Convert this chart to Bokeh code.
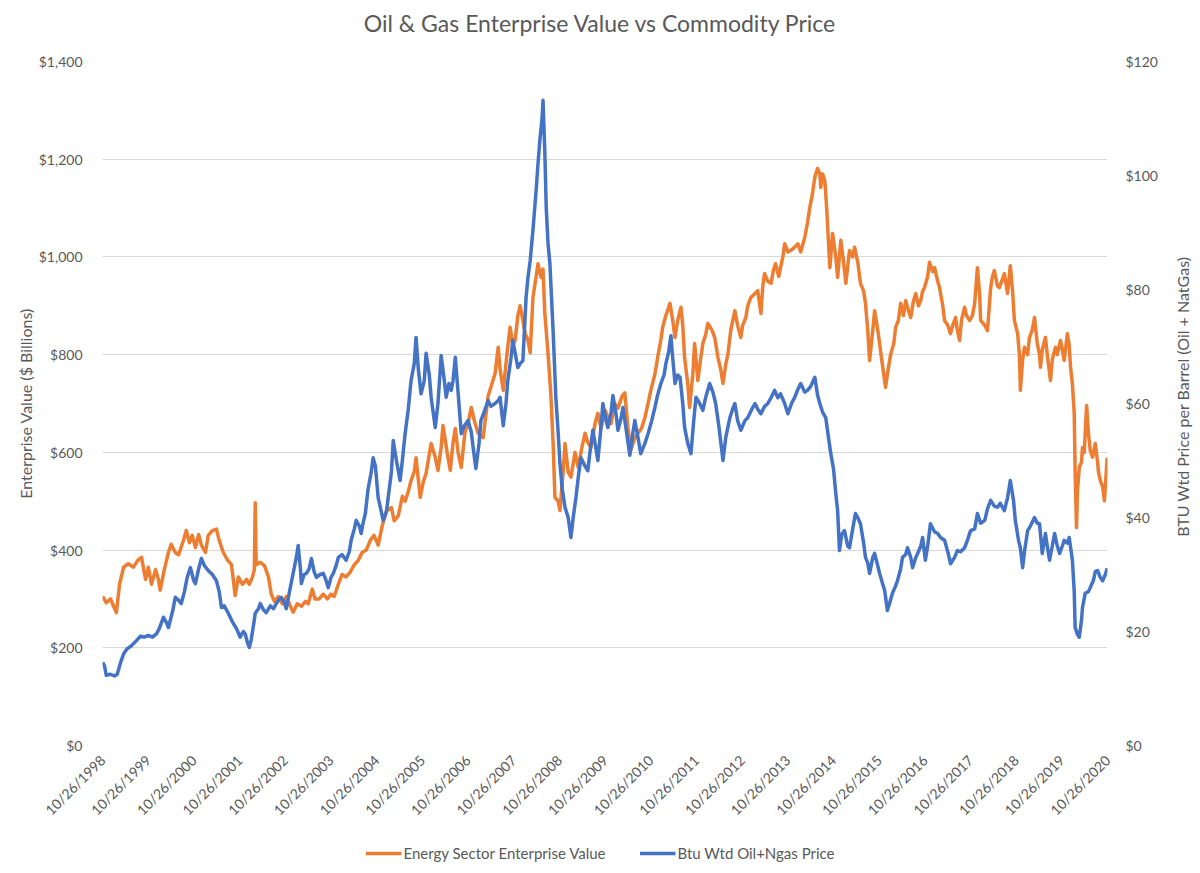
import math
from datetime import datetime
from bokeh.plotting import figure
from bokeh.layouts import column, row
from bokeh.models import (Range1d, LinearAxis, FixedTicker, NumeralTickFormatter,
                          DatetimeTickFormatter, Legend, LegendItem, ColumnDataSource, Label)
from bokeh.embed import file_html
from bokeh.resources import INLINE

# ---------------- data ----------------
# Energy Sector Enterprise Value ($ Billions), time as decimal year
ev_years = [
1998.82,1998.90,1998.99,1999.06,1999.12,1999.19,1999.28,1999.38,1999.49,1999.60,1999.67,1999.76,1999.82,1999.89,1999.98,
2000.04,2000.08,2000.17,2000.26,2000.32,2000.41,2000.48,2000.59,2000.65,2000.72,2000.78,2000.85,2000.92,2000.98,
2001.07,2001.13,2001.22,2001.31,2001.37,2001.46,2001.55,2001.64,2001.72,2001.79,2001.88,2001.97,
2002.03,2002.10,2002.14,2002.16,2002.18,2002.27,2002.36,2002.45,2002.51,2002.58,2002.67,2002.75,2002.84,2002.93,2002.99,
2003.08,2003.17,2003.26,2003.32,2003.41,2003.47,2003.56,2003.65,2003.74,2003.82,2003.89,2003.98,
2004.06,2004.15,2004.24,2004.33,2004.41,2004.50,2004.59,2004.68,2004.76,2004.85,2004.94,
2005.03,2005.14,2005.20,2005.29,2005.38,2005.44,2005.51,2005.57,2005.64,2005.68,2005.77,2005.84,2005.90,
2006.01,2006.10,2006.16,2006.23,2006.27,2006.36,2006.43,2006.49,2006.54,2006.60,2006.67,2006.75,2006.82,2006.89,2006.97,
2007.04,2007.15,2007.26,2007.34,2007.41,2007.48,2007.52,2007.59,2007.67,2007.74,2007.80,2007.85,2007.91,2007.96,
2008.02,2008.07,2008.13,2008.18,2008.24,2008.31,2008.35,2008.42,2008.46,2008.50,2008.57,2008.63,2008.68,2008.72,2008.79,2008.83,2008.90,2008.94,
2009.01,2009.07,2009.16,2009.23,2009.31,2009.38,2009.44,2009.51,2009.60,2009.66,2009.73,2009.82,2009.88,2009.95,
2010.03,2010.10,2010.19,2010.25,2010.32,2010.38,2010.47,2010.54,2010.62,2010.69,2010.76,2010.82,2010.91,2010.97,
2011.04,2011.08,2011.15,2011.24,2011.30,2011.35,2011.41,2011.48,2011.52,2011.56,2011.63,2011.67,2011.74,2011.78,2011.85,2011.91,2011.96,
2012.02,2012.07,2012.16,2012.22,2012.29,2012.35,2012.40,2012.46,2012.51,2012.57,2012.66,2012.72,2012.79,2012.83,2012.90,2012.94,
2013.01,2013.10,2013.16,2013.23,2013.27,2013.31,2013.38,2013.45,2013.51,2013.55,2013.62,2013.66,2013.71,2013.75,2013.82,2013.88,2013.97,
2014.04,2014.10,2014.19,2014.25,2014.30,2014.36,2014.41,2014.47,2014.52,2014.54,2014.58,2014.63,2014.67,2014.74,2014.80,2014.87,2014.91,2014.98,
2015.04,2015.09,2015.17,2015.24,2015.28,2015.35,2015.41,2015.48,2015.52,2015.57,2015.61,2015.68,2015.72,2015.79,2015.85,2015.89,2015.96,
2016.00,2016.07,2016.14,2016.18,2016.24,2016.29,2016.35,2016.40,2016.46,2016.51,2016.57,2016.62,2016.68,2016.73,2016.77,2016.81,2016.88,2016.92,2016.99,
2017.03,2017.10,2017.14,2017.21,2017.25,2017.32,2017.38,2017.43,2017.49,2017.53,2017.58,2017.62,2017.69,2017.73,2017.80,2017.86,2017.91,2017.97,
2018.02,2018.04,2018.13,2018.19,2018.26,2018.30,2018.34,2018.41,2018.45,2018.52,2018.56,2018.63,2018.69,2018.74,2018.78,2018.85,2018.89,2018.91,2018.96,
2019.00,2019.07,2019.11,2019.17,2019.22,2019.28,2019.33,2019.35,2019.39,2019.46,2019.50,2019.57,2019.61,2019.68,2019.72,2019.79,2019.83,2019.87,2019.94,2019.98,
2020.01,2020.05,2020.09,2020.11,2020.14,2020.16,2020.20,2020.25,2020.27,2020.31,2020.36,2020.40,2020.44,2020.49,2020.55,2020.60,2020.62,2020.66,2020.71,2020.75,2020.79,2020.81]
ev_values = [
305,292,300,285,272,330,365,372,365,380,385,340,365,330,360,
340,318,360,395,412,395,390,420,440,415,430,405,432,410,
395,430,440,443,420,395,380,370,307,345,330,340,
330,345,360,497,370,375,368,345,310,295,305,290,305,285,273,
290,285,295,290,320,300,300,310,300,310,305,330,
350,345,355,370,378,395,400,420,430,410,450,
480,487,460,470,510,500,520,542,560,589,508,540,557,
618,590,563,610,655,600,563,620,649,600,569,640,660,692,660,
639,630,716,740,761,815,770,727,800,856,820,829,880,900,
870,843,830,804,917,960,986,958,975,884,802,720,620,508,500,481,560,618,
560,549,600,569,610,639,620,610,660,680,650,686,670,659,
700,690,715,722,650,604,630,639,650,671,700,727,760,794,
830,856,880,905,870,835,870,897,860,794,740,692,760,823,747,790,823,
840,864,850,835,794,770,741,780,802,850,890,860,835,860,876,900,
917,925,931,884,940,966,950,946,975,986,960,978,1000,1027,1010,1013,1020,
1027,1010,1040,1070,1101,1130,1163,1181,1170,1142,1170,1156,1100,978,1048,1000,958,1034,
990,946,1013,1000,1020,990,946,930,905,850,788,850,890,850,808,780,733,
760,800,823,856,870,905,880,911,890,876,910,925,900,911,930,937,960,989,970,
978,950,937,900,870,860,843,860,876,850,829,870,897,880,870,880,905,978,
920,870,860,849,937,960,972,940,937,955,966,925,982,930,870,843,800,727,790,
815,800,835,850,876,823,800,774,810,835,800,747,790,815,800,829,810,788,843,820,
774,740,680,560,446,520,569,580,610,600,696,640,604,590,618,580,560,542,530,501,560,589]

# Btu weighted Oil + NatGas price ($ per barrel), time as decimal year
px_years = [
1998.82,1998.86,1998.90,1998.99,1999.08,1999.14,1999.21,1999.28,1999.36,1999.45,1999.56,1999.65,1999.73,1999.82,1999.91,
2000.00,2000.06,2000.15,2000.22,2000.26,2000.35,2000.41,2000.48,2000.54,2000.61,2000.67,2000.74,2000.81,2000.85,2000.92,2000.98,
2001.05,2001.13,2001.22,2001.31,2001.37,2001.42,2001.48,2001.57,2001.64,2001.68,2001.75,2001.83,2001.90,2001.94,2001.99,
2002.03,2002.07,2002.12,2002.16,2002.23,2002.27,2002.34,2002.40,2002.49,2002.56,2002.60,2002.67,2002.73,2002.80,2002.84,2002.91,2002.99,
2003.06,2003.10,2003.15,2003.17,2003.23,2003.28,2003.34,2003.39,2003.45,2003.50,2003.58,2003.65,2003.71,2003.76,2003.82,2003.87,2003.93,2003.98,
2004.06,2004.15,2004.22,2004.26,2004.33,2004.37,2004.44,2004.48,2004.52,2004.57,2004.63,2004.70,2004.74,2004.79,2004.85,2004.92,2004.96,
2005.03,2005.07,2005.14,2005.18,2005.25,2005.33,2005.38,2005.44,2005.51,2005.57,2005.64,2005.68,2005.73,2005.79,2005.86,2005.90,2005.97,
2006.01,2006.10,2006.16,2006.23,2006.30,2006.34,2006.40,2006.45,2006.49,2006.54,2006.60,2006.67,2006.73,2006.82,2006.89,2006.93,2006.99,
2007.06,2007.10,2007.17,2007.26,2007.32,2007.41,2007.48,2007.52,2007.59,2007.65,2007.69,2007.76,2007.80,2007.87,2007.91,2007.96,
2008.02,2008.09,2008.13,2008.18,2008.24,2008.31,2008.35,2008.39,2008.44,2008.46,2008.50,2008.53,2008.57,2008.61,2008.68,2008.74,2008.79,2008.83,2008.88,2008.94,
2009.01,2009.07,2009.12,2009.18,2009.23,2009.29,2009.38,2009.44,2009.51,2009.55,2009.62,2009.66,2009.73,2009.77,2009.84,2009.88,2009.95,2009.99,
2010.06,2010.10,2010.17,2010.21,2010.27,2010.36,2010.43,2010.47,2010.54,2010.60,2010.69,2010.76,2010.84,2010.91,2010.97,
2011.04,2011.11,2011.15,2011.21,2011.26,2011.30,2011.35,2011.41,2011.46,2011.52,2011.56,2011.63,2011.70,2011.76,2011.81,2011.89,2011.96,
2012.02,2012.11,2012.18,2012.24,2012.31,2012.40,2012.46,2012.55,2012.61,2012.66,2012.72,2012.79,2012.88,2012.94,
2013.03,2013.10,2013.16,2013.23,2013.31,2013.38,2013.45,2013.53,2013.60,2013.66,2013.75,2013.82,2013.90,2013.97,
2014.04,2014.10,2014.19,2014.25,2014.32,2014.41,2014.47,2014.52,2014.58,2014.65,2014.71,2014.76,2014.82,2014.87,2014.91,2014.95,
2015.00,2015.06,2015.13,2015.17,2015.24,2015.30,2015.35,2015.41,2015.48,2015.52,2015.57,2015.61,2015.68,2015.72,2015.79,2015.83,2015.89,2015.94,
2016.00,2016.05,2016.11,2016.18,2016.22,2016.29,2016.33,2016.40,2016.44,2016.51,2016.55,2016.62,2016.66,2016.73,2016.77,2016.83,2016.88,2016.94,
2017.03,2017.10,2017.16,2017.25,2017.32,2017.38,2017.47,2017.53,2017.60,2017.69,2017.75,2017.82,2017.91,2017.97,
2018.04,2018.13,2018.19,2018.26,2018.34,2018.41,2018.47,2018.56,2018.63,2018.69,2018.76,2018.80,2018.87,2018.91,2018.96,
2019.00,2019.07,2019.13,2019.22,2019.28,2019.33,2019.39,2019.46,2019.50,2019.55,2019.61,2019.66,2019.72,2019.77,2019.83,2019.87,2019.94,2019.98,
2020.05,2020.09,2020.11,2020.16,2020.20,2020.25,2020.27,2020.33,2020.40,2020.44,2020.51,2020.55,2020.60,2020.66,2020.71,2020.77,2020.81]
px_values = [
14.6,14.0,12.3,12.5,12.2,12.5,14.5,16.1,17.0,17.5,18.4,19.2,19.0,19.3,19.0,
19.6,20.5,22.5,21.5,20.7,23.5,26.0,25.5,24.9,27.0,29.5,31.2,29.0,28.4,31.0,32.8,
31.5,30.7,30.0,28.9,27.0,24.2,24.5,23.2,22.0,21.4,20.5,19.0,20.0,19.6,18.0,
17.2,18.5,21.0,23.2,24.0,24.9,23.8,23.3,24.5,24.0,24.6,25.5,26.0,25.0,24.0,27.0,30.2,
33.0,35.1,31.0,28.4,30.0,30.2,31.0,32.8,30.5,29.5,30.0,30.2,29.0,27.7,29.5,30.2,31.5,33.0,
33.5,32.5,34.0,36.0,38.0,39.5,38.5,37.2,39.0,40.7,45.0,48.0,50.5,49.0,43.5,41.0,39.5,
41.0,43.5,48.0,53.5,50.0,46.5,50.0,54.7,59.0,64.0,67.0,71.6,66.0,61.7,64.0,68.8,65.0,
61.1,55.8,60.0,68.4,64.0,61.1,63.5,62.3,64.0,68.1,62.0,54.7,56.0,57.0,55.0,52.3,48.6,
53.0,57.0,58.5,60.5,59.5,60.0,60.5,61.1,56.1,60.0,64.0,68.0,71.1,68.0,66.3,67.0,
67.5,78.6,82.0,85.1,90.4,97.4,102.0,106.1,110.0,113.2,104.0,94.4,88.0,84.6,72.8,61.1,55.0,49.5,45.0,41.8,
40.0,36.5,40.0,43.5,47.0,50.5,49.0,48.2,53.0,55.3,52.0,50.0,56.0,60.0,57.0,55.8,58.5,61.4,
58.0,55.3,57.5,59.3,56.0,50.9,55.0,57.0,54.0,51.2,53.0,54.7,57.0,59.3,61.5,
63.5,65.0,67.0,69.0,71.9,68.0,63.5,65.0,64.6,60.0,55.8,53.0,51.2,57.0,61.1,60.0,58.8,
61.0,63.5,62.0,60.0,56.0,50.0,54.0,57.5,59.0,60.0,57.0,55.3,57.0,57.5,
59.0,60.0,59.0,58.2,59.5,60.0,61.0,62.3,61.0,61.7,60.0,58.2,60.0,61.1,
62.5,63.5,62.0,62.3,63.0,64.6,61.5,60.0,58.5,57.5,54.0,51.2,48.5,44.2,41.2,34.2,
37.0,37.7,35.0,34.7,38.0,40.7,40.0,38.9,35.5,33.0,32.0,30.2,33.0,33.7,31.5,30.2,28.5,27.2,
23.7,25.0,26.7,28.0,28.9,31.0,33.0,33.5,34.7,33.0,31.2,33.0,33.7,35.0,36.5,32.5,35.0,38.9,
37.5,37.2,36.5,36.0,34.0,31.9,33.0,34.2,34.0,34.7,36.0,37.7,38.0,40.7,
39.0,39.5,41.5,43.0,42.0,41.8,42.5,41.2,43.5,46.5,43.0,39.5,36.0,34.7,31.2,
34.0,37.7,38.5,40.0,39.0,38.9,33.7,37.2,35.0,32.5,35.0,37.2,35.0,33.7,35.0,36.0,35.5,36.5,
32.5,27.0,20.7,19.5,19.0,22.0,24.2,26.7,27.0,27.7,29.0,30.5,30.7,29.5,28.9,30.0,31.1]

tick_years = list(range(1998, 2021))   # axis ticks fall on 10/26 of each year
ev_ticks = [0, 200, 400, 600, 800, 1000, 1200, 1400]
px_ticks = [0, 20, 40, 60, 80, 100, 120]
series_names = ["Energy Sector Enterprise Value", "Btu Wtd Oil+Ngas Price"]
left_label = "Enterprise Value ($ Billions)"
right_label = "BTU Wtd Price per Barrel (Oil + NatGas)"
title_text = "Oil & Gas Enterprise Value vs Commodity Price"

# ---------------- helpers ----------------
def to_dt(yrs):
    out = []
    for y in yrs:
        yi = int(y)
        a, b = datetime(yi, 1, 1), datetime(yi + 1, 1, 1)
        out.append(a + (b - a) * (y - yi))
    return out

def strip(width, height):
    f = figure(width=width, height=height, output_backend="svg", toolbar_location=None,
               x_range=Range1d(0, 1), y_range=Range1d(0, 1), min_border=0)
    f.axis.visible = False
    f.grid.visible = False
    f.outline_line_color = None
    f.border_fill_color = "white"
    return f

FONT = "Lato"
GREY = "#595959"
ORANGE = "#ED7D31"
BLUE = "#4472C4"

# ---------------- title strip ----------------
tt = strip(1200, 44)
tt.add_layout(Label(x=0.5, y=0.5, text=title_text, text_align="center", text_baseline="middle",
                    text_font=FONT, text_font_size="23px", text_color=GREY))

# ---------------- main chart ----------------
x_start = datetime(tick_years[0], 10, 26)
x_end = datetime(tick_years[-1], 10, 26)

p = figure(width=1160, height=789, x_axis_type="datetime",
           output_backend="svg", toolbar_location=None,
           x_range=Range1d(x_start, x_end), y_range=Range1d(0, 1400),
           min_border_left=102, min_border_right=50,
           min_border_top=17, min_border_bottom=88)
p.outline_line_color = None
p.background_fill_color = "white"
p.border_fill_color = "white"

p.extra_y_ranges = {"px": Range1d(0, 120)}

src_ev = ColumnDataSource(dict(x=to_dt(ev_years), y=ev_values))
src_px = ColumnDataSource(dict(x=to_dt(px_years), y=px_values))
p.line("x", "y", source=src_ev, line_color=ORANGE, line_width=3.5, line_join="round")
p.line("x", "y", source=src_px, line_color=BLUE, line_width=3.5, line_join="round",
       y_range_name="px")

# grid
p.xgrid.visible = False
p.ygrid.grid_line_color = "#d9d9d9"
p.ygrid.grid_line_width = 1
p.ygrid.ticker = FixedTicker(ticks=ev_ticks)

# x axis
xa = p.xaxis[0]
xa.ticker = FixedTicker(ticks=[datetime(y, 10, 26).timestamp() * 1000 for y in tick_years])
fmt = "%m/%d/%Y"
xa.formatter = DatetimeTickFormatter(milliseconds=fmt, seconds=fmt, minsec=fmt, minutes=fmt,
                                     hourmin=fmt, hours=fmt, days=fmt, months=fmt, years=fmt)
xa.major_label_orientation = math.pi / 4

# left axis
ya = p.yaxis[0]
ya.ticker = FixedTicker(ticks=ev_ticks)
ya.formatter = NumeralTickFormatter(format="$0,0")
ya.axis_label = left_label

# right axis (its title is drawn in the strip to the right)
ra = LinearAxis(y_range_name="px", ticker=FixedTicker(ticks=px_ticks),
                formatter=NumeralTickFormatter(format="$0,0"))
p.add_layout(ra, "right")

for ax in (xa, ya, ra):
    ax.axis_line_color = None
    ax.major_tick_line_color = None
    ax.minor_tick_line_color = None
    ax.major_label_text_font = FONT
    ax.major_label_text_font_size = "14px"
    ax.major_label_text_color = GREY
    ax.axis_label_text_font = FONT
    ax.axis_label_text_font_size = "16px"
    ax.axis_label_text_font_style = "normal"
    ax.axis_label_text_color = GREY
ya.major_label_standoff = 14
ra.major_label_standoff = 12
xa.major_label_standoff = 6
ya.axis_label_standoff = 1

# ---------------- right axis title strip ----------------
rs = strip(40, 789)
rs.add_layout(Label(x=0.56, y=0.51, text=right_label, angle=math.pi / 2,
                    text_align="center", text_baseline="middle",
                    text_font=FONT, text_font_size="16px", text_color=GREY))

# ---------------- legend strip below the chart ----------------
lg = strip(1200, 40)
# same series, outside this strip's view: only their legend samples show
d1 = lg.line("x", "y", source=src_ev, line_color=ORANGE, line_width=3.5)
d2 = lg.line("x", "y", source=src_px, line_color=BLUE, line_width=3.5)
legend = Legend(items=[LegendItem(label=series_names[0], renderers=[d1]),
                       LegendItem(label=series_names[1], renderers=[d2])],
                orientation="horizontal", location="center")
legend.border_line_color = None
legend.background_fill_alpha = 0
legend.label_text_font = FONT
legend.label_text_font_size = "15px"
legend.label_text_color = GREY
legend.glyph_width = 36
legend.label_standoff = 2
legend.spacing = 34
legend.margin = 0
legend.padding = 0
lg.add_layout(legend, "center")

layout = column(tt, row(p, rs, spacing=0), lg, spacing=0)
open("out.html", "w").write(file_html(layout, INLINE))
